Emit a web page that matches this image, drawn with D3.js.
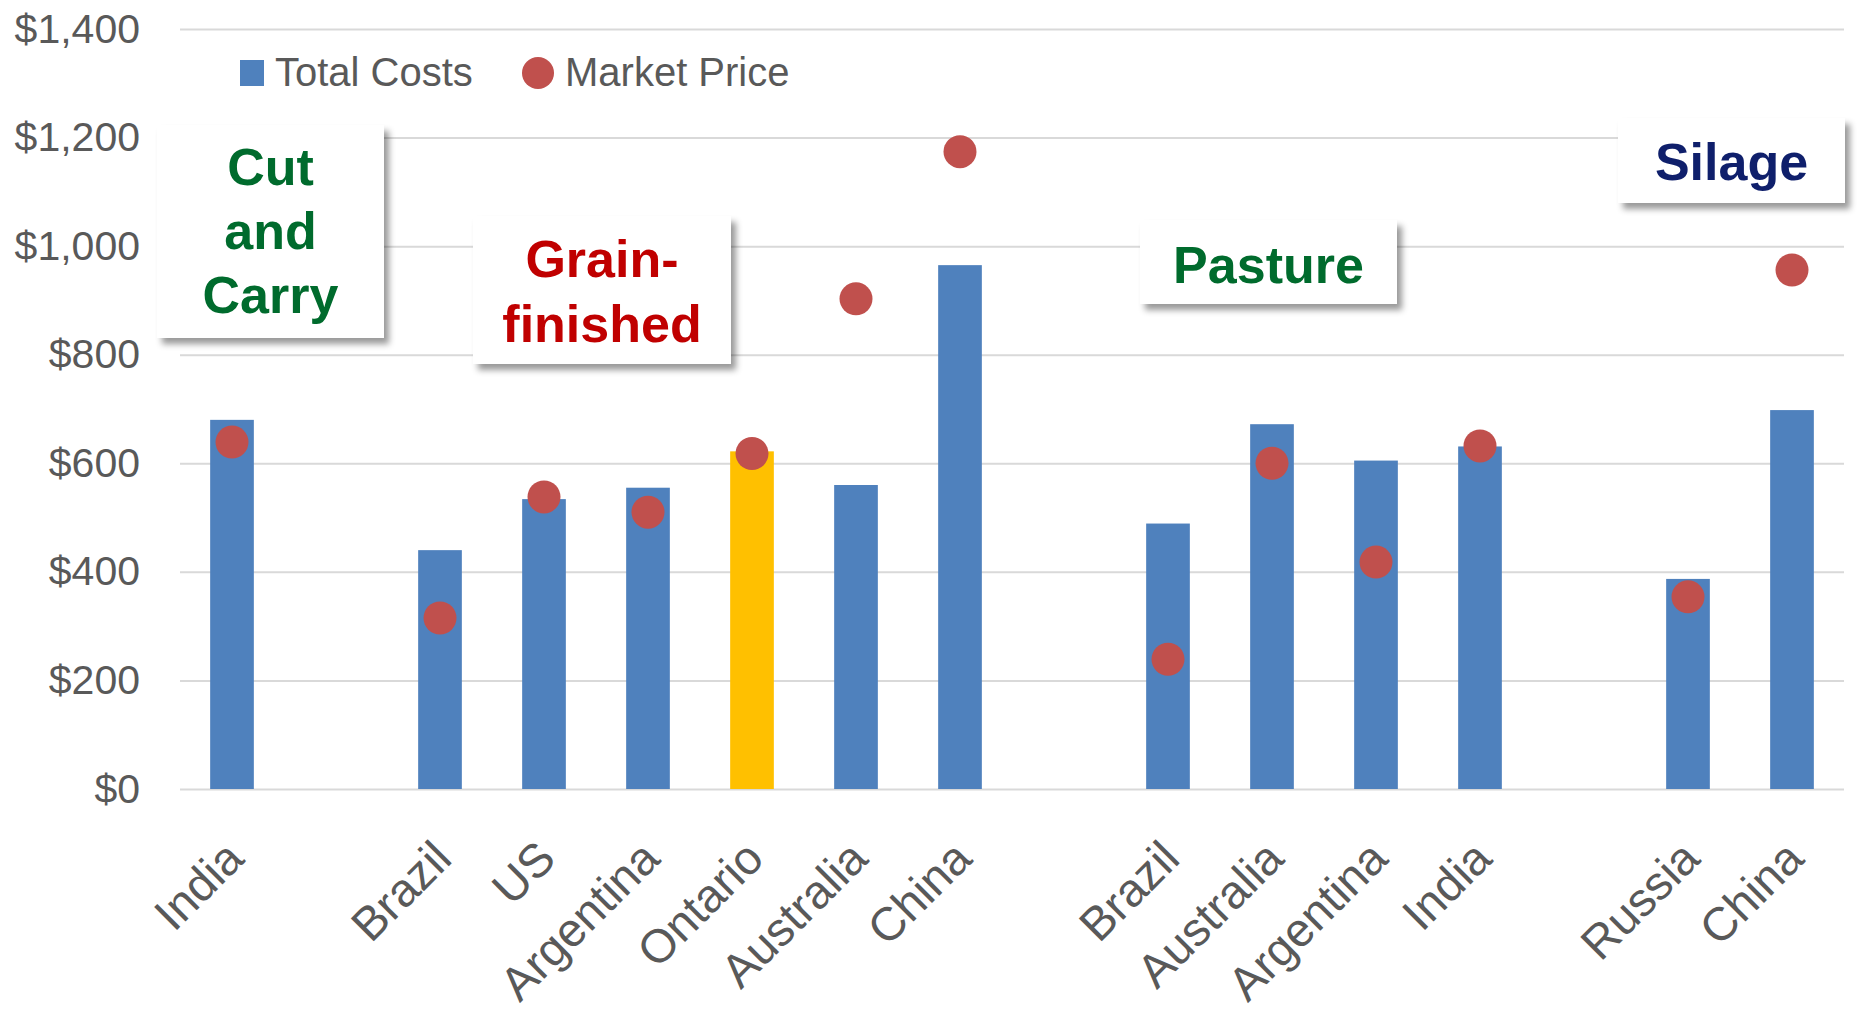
<!DOCTYPE html>
<html>
<head>
<meta charset="utf-8">
<script src="https://cdn.jsdelivr.net/npm/d3@7"></script>
<style>
  body { margin: 0; background: #fff; }
  text { font-family: "Liberation Sans", Arial, sans-serif; }
</style>
</head>
<body>
<div id="my_dataviz"></div>
<script>
// data (blank slots separate the production systems)
var categories = ["India", "", "Brazil", "US", "Argentina", "Ontario", "Australia", "China", "",
  "Brazil", "Australia", "Argentina", "India", "", "Russia", "China"];
var totalCosts = [680, null, 440, 534, 555, 622, 560, 965, null, 489, 672, 605, 631, null, 387, 698];
var marketPrice = [639, null, 315, 538, 510, 618, 903, 1174, null, 239, 600, 418, 632, null, 354, 956];
var yTicks = [0, 200, 400, 600, 800, 1000, 1200, 1400];
var seriesNames = ["Total Costs", "Market Price"];
var highlighted = ["Ontario"];

// set the dimensions and margins of the graph
var margin = { top: 29, right: 16, bottom: 230, left: 180 },
  width = 1860 - margin.left - margin.right,
  height = 1019 - margin.top - margin.bottom;

var svg = d3.select("#my_dataviz")
  .append("svg")
  .attr("width", width + margin.left + margin.right)
  .attr("height", height + margin.top + margin.bottom)

// drop shadow for the label boxes
var defs = svg.append("defs")
defs.append("filter")
  .attr("id", "shadow")
  .attr("x", "-10%").attr("y", "-10%").attr("width", "130%").attr("height", "130%")
  .append("feDropShadow")
  .attr("dx", 5).attr("dy", 6)
  .attr("stdDeviation", 3)
  .attr("flood-color", "#000")
  .attr("flood-opacity", 0.4)

var g = svg.append("g")
  .attr("transform", "translate(" + margin.left + "," + margin.top + ")");

var idx = d3.range(categories.length)

// X scale
var x = d3.scaleBand()
  .domain(idx)
  .range([0, width])
  .paddingInner(0.58)
  .paddingOuter(0.29)

// Y scale
var y = d3.scaleLinear()
  .domain([0, 1400])
  .range([height, 0]);

// Y axis + gridlines
var yAxis = g.append("g")
  .call(d3.axisLeft(y)
    .tickValues(yTicks)
    .tickFormat(d3.format("$,.0f"))
    .tickSizeInner(-width)
    .tickSizeOuter(0)
    .tickPadding(40))
yAxis.select(".domain").remove()
yAxis.selectAll("line")
  .attr("stroke", "#d9d9d9")
  .attr("stroke-width", 2)
yAxis.selectAll("text")
  .attr("fill", "#595959")
  .style("font-size", "41px")

// X axis labels
var xAxis = g.append("g")
  .attr("transform", "translate(0," + height + ")")
  .call(d3.axisBottom(x)
    .tickFormat(function (i) { return categories[i] })
    .tickSize(0))
xAxis.select(".domain").remove()
xAxis.selectAll("text")
  .attr("x", 0).attr("y", 0).attr("dy", 0)
  .attr("text-anchor", "end")
  .attr("transform", "translate(14,72) rotate(-45)")
  .attr("fill", "#595959")
  .style("font-size", "47px")

// bars
g.append("g")
  .selectAll("rect")
  .data(idx.filter(function (i) { return totalCosts[i] != null }))
  .enter().append("rect")
  .attr("x", function (i) { return x(i) })
  .attr("width", x.bandwidth())
  .attr("y", function (i) { return y(totalCosts[i]) })
  .attr("height", function (i) { return y(0) - y(totalCosts[i]) })
  .attr("fill", function (i) { return highlighted.indexOf(categories[i]) >= 0 ? "#ffc000" : "#4f81bd" })

// market price dots
g.append("g")
  .selectAll("circle")
  .data(idx.filter(function (i) { return marketPrice[i] != null }))
  .enter().append("circle")
  .attr("cx", function (i) { return x(i) + x.bandwidth() / 2 })
  .attr("cy", function (i) { return y(marketPrice[i]) })
  .attr("r", 16.5)
  .attr("fill", "#c0504d")

// legend
var legend = svg.append("g")
legend.append("rect")
  .attr("x", 240).attr("y", 60).attr("width", 24).attr("height", 26)
  .attr("fill", "#4f81bd")
legend.append("text")
  .attr("x", 275).attr("y", 86)
  .attr("fill", "#595959").style("font-size", "40px")
  .text(seriesNames[0])
legend.append("circle")
  .attr("cx", 538).attr("cy", 73).attr("r", 16)
  .attr("fill", "#c0504d")
legend.append("text")
  .attr("x", 565).attr("y", 86)
  .attr("fill", "#595959").style("font-size", "40px")
  .text(seriesNames[1])

// system label boxes
var boxes = [
  { lines: ["Cut", "and", "Carry"], color: "#006b2d", x: 157, y: 125, w: 227, h: 213, base: 185, step: 64 },
  { lines: ["Grain-", "finished"], color: "#c00000", x: 473, y: 216, w: 258, h: 148, base: 277, step: 65 },
  { lines: ["Pasture"], color: "#006b2d", x: 1140, y: 220, w: 257, h: 84, base: 283, step: 0 },
  { lines: ["Silage"], color: "#0f1f6b", x: 1618, y: 118, w: 227, h: 85, base: 180, step: 0 }
]
var bx = svg.append("g")
  .selectAll("g")
  .data(boxes)
  .enter().append("g")
bx.append("rect")
  .attr("x", function (d) { return d.x })
  .attr("y", function (d) { return d.y })
  .attr("width", function (d) { return d.w })
  .attr("height", function (d) { return d.h })
  .attr("fill", "#fff")
  .attr("filter", "url(#shadow)")
bx.each(function (d) {
  d3.select(this).selectAll("text")
    .data(d.lines)
    .enter().append("text")
    .attr("x", d.x + d.w / 2)
    .attr("y", function (t, i) { return d.base + i * d.step })
    .attr("text-anchor", "middle")
    .attr("fill", d.color)
    .style("font-size", "52px")
    .style("font-weight", "bold")
    .text(function (t) { return t })
})
</script>
</body>
</html>
